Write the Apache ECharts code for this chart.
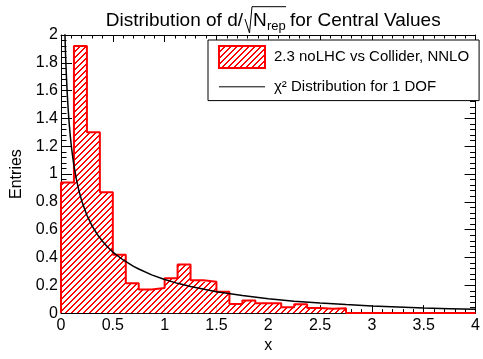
<!DOCTYPE html>
<html>
<head>
<meta charset="utf-8">
<script src="https://cdn.jsdelivr.net/npm/echarts@6/dist/echarts.min.js"></script>
<style>
html, body { margin: 0; padding: 0; background: #fff; }
#chart { width: 483px; height: 359px; }
</style>
</head>
<body>
<div id="chart"></div>
<script>
// histogram: lower bin edges and bin contents, bin width 0.125
var binWidth = 0.125;
var binLow = [0, 0.125, 0.25, 0.375, 0.5, 0.625, 0.75, 0.875,
              1, 1.125, 1.25, 1.375, 1.5, 1.625, 1.75, 1.875,
              2, 2.125, 2.25, 2.375, 2.5, 2.625, 2.75, 2.875,
              3, 3.125, 3.25, 3.375, 3.5, 3.625, 3.75, 3.875];
var binContent = [0.94, 1.92, 1.30, 0.87, 0.42, 0.215, 0.17, 0.18,
                  0.25, 0.35, 0.236, 0.225, 0.153, 0.066, 0.09, 0.071,
                  0.071, 0.042, 0.063, 0.037, 0.031, 0.035, 0, 0,
                  0, 0, 0, 0, 0, 0, 0, 0];

// chi2 curve, points
var chi2X = [0.035, 0.04, 0.045, 0.05, 0.06, 0.07, 0.08, 0.09, 0.1, 0.11, 0.125, 0.15, 0.175,
             0.2, 0.25, 0.3, 0.35, 0.4, 0.45, 0.5, 0.6, 0.7, 0.75, 0.875, 1, 1.125, 1.25,
             1.5, 1.75, 2, 2.25, 2.5, 2.75, 3, 3.25, 3.5, 3.75, 4];
var chi2Y = [2.095, 1.955, 1.839, 1.740, 1.580, 1.456, 1.355, 1.271, 1.200, 1.139, 1.060, 0.956, 0.874,
             0.807, 0.704, 0.627, 0.566, 0.517, 0.475, 0.439, 0.382, 0.336, 0.317, 0.275, 0.242, 0.214, 0.191,
             0.154, 0.126, 0.104, 0.086, 0.072, 0.061, 0.051, 0.044, 0.037, 0.032, 0.027];

var histName = '2.3 noLHC vs Collider, NNLO';
var curveName = 'χ² Distribution for 1 DOF';
var font = '"Liberation Sans", Arial, sans-serif';
var red = '#ff0000';

var gridLeft = 61, gridRight = 0.4;
var plotWidth = 483 - gridLeft - gridRight;

// square tile with an opaque "/" pixel staircase, thick pixels wide
function makeHatch(size, thick) {
    var c = document.createElement('canvas');
    c.width = size; c.height = size;
    var g = c.getContext('2d');
    g.fillStyle = '#ffffff';
    g.fillRect(0, 0, size, size);
    g.fillStyle = red;
    for (var i = 0; i < size; i++) {
        for (var t = 0; t < thick; t++) {
            g.fillRect((i + t) % size, size - 1 - i, 1, 1);
        }
    }
    return c;
}
var hatch = { image: makeHatch(6, 2), repeat: 'repeat' };

var histData = binLow.map(function (x, i) { return [x + binWidth / 2, binContent[i]]; });

// outline as a step line
var outline = [[0, 0]];
binLow.forEach(function (x, i) { outline.push([x, binContent[i]]); });
outline.push([binLow[binLow.length - 1] + binWidth, binContent[binContent.length - 1]]);

var curveData = chi2X.map(function (x, i) { return [x, chi2Y[i]]; });

function frameAxis(extra) {
    var a = {
        type: 'value',
        axisLine: { show: true, onZero: false, lineStyle: { color: '#000', width: 1 } },
        axisTick: { show: true, inside: true, lineStyle: { color: '#000', width: 1 } },
        minorTick: { show: true, splitNumber: 5, lineStyle: { color: '#000', width: 1 } },
        axisLabel: { color: '#000', fontSize: 16, fontFamily: font },
        splitLine: { show: false },
        minorSplitLine: { show: false }
    };
    for (var k in extra) {
        if (typeof extra[k] === 'object' && a[k]) {
            for (var j in extra[k]) a[k][j] = extra[k][j];
        } else {
            a[k] = extra[k];
        }
    }
    return a;
}

var option = {
    animation: false,
    backgroundColor: '#fff',
    textStyle: { fontFamily: font },
    grid: { left: gridLeft, right: gridRight, top: 35, bottom: 41 },
    xAxis: [
        frameAxis({ min: 0, max: 4, interval: 0.5, position: 'bottom',
            name: 'x', nameLocation: 'middle', nameGap: 23,
            nameTextStyle: { color: '#000', fontSize: 16, fontFamily: font },
            axisTick: { length: 8 }, minorTick: { length: 4 }, axisLabel: { margin: 4 } }),
        frameAxis({ min: 0, max: 4, interval: 0.5, position: 'top',
            axisTick: { length: 7 }, minorTick: { length: 3.5 }, axisLabel: { show: false } })
    ],
    yAxis: [
        frameAxis({ min: 0, max: 2, interval: 0.2, position: 'left',
            name: 'Entries', nameLocation: 'middle', nameGap: 34,
            nameTextStyle: { color: '#000', fontSize: 16, fontFamily: font },
            axisTick: { length: 11 }, minorTick: { length: 5.5 }, axisLabel: { margin: 3 } }),
        frameAxis({ min: 0, max: 2, interval: 0.2, position: 'right',
            axisTick: { length: 11 }, minorTick: { length: 5.5 }, axisLabel: { show: false } })
    ],
    legend: {
        left: 208, top: 40,
        orient: 'vertical',
        selectedMode: false,
        backgroundColor: '#fff',
        borderColor: '#000', borderWidth: 1, borderRadius: 0,
        padding: [5, 10, 5, 10],
        itemWidth: 46, itemHeight: 22,
        itemGap: 9,
        textStyle: { color: '#000', fontSize: 15, fontFamily: font, padding: [0, 0, 0, 4] },
        data: [
            { name: histName, icon: 'rect',
              itemStyle: { color: hatch, borderColor: red, borderWidth: 2 } },
            { name: curveName, itemStyle: { opacity: 0 }, lineStyle: { color: '#000', width: 1 } }
        ]
    },
    graphic: [
        { type: 'text', x: 243, y: 21, style: { text: 'Distribution of d/', textAlign: 'right', textVerticalAlign: 'middle', font: '19px ' + font, fill: '#000' } },
        { type: 'polyline', shape: { points: [[245, 19], [249.5, 33], [252, 6.7], [286, 6.7]] }, style: { stroke: '#000', lineWidth: 1, fill: null } },
        { type: 'text', x: 253, y: 21, style: { text: 'N', textAlign: 'left', textVerticalAlign: 'middle', font: '19px ' + font, fill: '#000' } },
        { type: 'text', x: 267, y: 26.7, style: { text: 'rep', textAlign: 'left', textVerticalAlign: 'middle', font: '13px ' + font, fill: '#000' } },
        { type: 'text', x: 290, y: 21, style: { text: 'for Central Values', textAlign: 'left', textVerticalAlign: 'middle', font: '19px ' + font, fill: '#000' } }
    ],
    series: [
        {
            name: histName,
            type: 'bar',
            data: histData,
            barWidth: plotWidth / binLow.length,
            barGap: '-100%',
            itemStyle: { color: hatch, borderWidth: 0 },
            z: 2
        },
        {
            name: 'outline',
            type: 'line',
            step: 'end',
            data: outline,
            symbol: 'none',
            lineStyle: { color: red, width: 2 },
            clip: false,
            z: 3
        },
        {
            name: curveName,
            type: 'line',
            data: curveData,
            symbol: 'none',
            showSymbol: false,
            lineStyle: { color: '#000', width: 1.5 },
            itemStyle: { color: '#000' },
            z: 4
        }
    ]
};

var chart = echarts.init(document.getElementById('chart'));
chart.setOption(option);
</script>
</body>
</html>
